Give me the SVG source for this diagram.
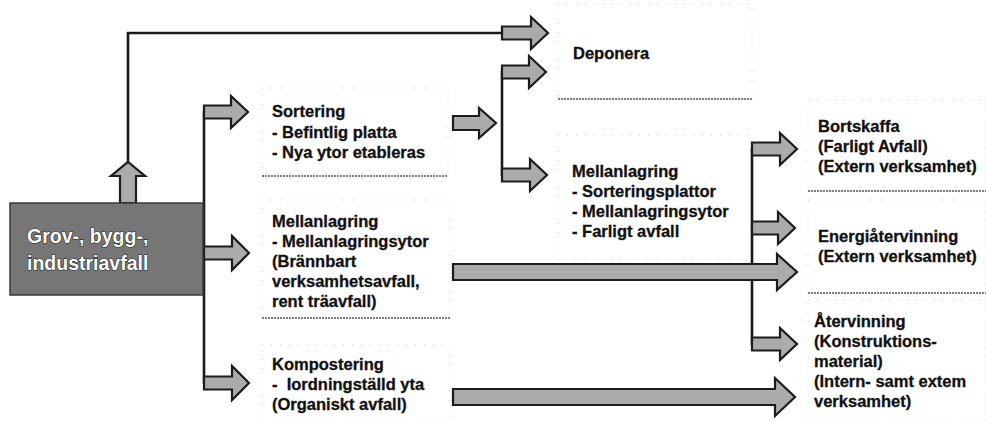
<svg xmlns="http://www.w3.org/2000/svg" width="986" height="421" viewBox="0 0 986 421">
<style>
.t{font-family:"Liberation Sans",Arial,sans-serif;font-weight:bold;font-size:16.5px;fill:#111;stroke:#111;stroke-width:0.3px;white-space:pre}
.bt{font-family:"Liberation Sans",Arial,sans-serif;font-weight:bold;font-size:19.5px;fill:#ffffff;stroke:#2a2a2a;stroke-width:1.2px;paint-order:stroke;white-space:pre}
.ln{fill:none;stroke:#1a1a1a;stroke-width:2.6}
.ar{fill:#ababab;stroke:#1c1c1c;stroke-width:2.2;stroke-linejoin:miter}
.sep{stroke:#555;stroke-width:1.3;stroke-dasharray:2 1}
.fb{fill:none;stroke:#cfcfcf;stroke-width:1;stroke-dasharray:1 8}
</style>
<rect width="986" height="421" fill="#ffffff"/>
<g id="faint-boxes">
<rect class="fb" x="262" y="88" width="186" height="88"/>
<rect class="fb" x="262" y="200" width="188" height="118"/>
<rect class="fb" x="262" y="345" width="188" height="76"/>
<rect class="fb" x="558" y="4" width="194" height="95"/>
<rect class="fb" x="558" y="135" width="194" height="125"/>
<rect class="fb" x="808" y="100" width="178" height="91"/>
<rect class="fb" x="808" y="200" width="178" height="93"/>
<rect class="fb" x="808" y="300" width="178" height="121"/>
</g>
<g id="separators">
<line class="sep" x1="262" y1="176" x2="448" y2="176"/>
<line class="sep" x1="262" y1="318" x2="450" y2="318"/>
<line class="sep" x1="558" y1="99" x2="752" y2="99"/>
<line class="sep" x1="808" y1="191" x2="986" y2="191"/>
<line class="sep" x1="808" y1="293" x2="986" y2="293"/>
</g>
<g id="connectors">
<polyline class="ln" points="128,162 128,33 504,33"/>
<line class="ln" x1="204" y1="111" x2="204" y2="384"/>
<line class="ln" x1="502" y1="71" x2="502" y2="176"/>
<line class="ln" x1="752" y1="148" x2="752" y2="345"/>
<path class="ar" d="M120,203 L120,176 L111,176 L128,162 L145,176 L136,176 L136,203 Z"/>
<path class="ar" d="M204,105.5 L231,105.5 L231,96 L248,112 L231,128 L231,118.5 L204,118.5 Z"/>
<path class="ar" d="M204,246.5 L232,246.5 L232,236 L249,253 L232,270 L232,259.5 L204,259.5 Z"/>
<path class="ar" d="M204,376.5 L232,376.5 L232,366 L249,383 L232,400 L232,389.5 L204,389.5 Z"/>
<path class="ar" d="M502,26.5 L531,26.5 L531,17 L548,33 L531,49 L531,39.5 L502,39.5 Z"/>
<path class="ar" d="M502,65.5 L529,65.5 L529,56 L546,72 L529,88 L529,78.5 L502,78.5 Z"/>
<path class="ar" d="M453,116 L479,116 L479,108 L496,123 L479,138 L479,130 L453,130 Z"/>
<path class="ar" d="M502,168.5 L530,168.5 L530,159 L547,175 L530,191 L530,181.5 L502,181.5 Z"/>
<path class="ar" d="M752,142.5 L780,142.5 L780,133 L797,149 L780,165 L780,155.5 L752,155.5 Z"/>
<path class="ar" d="M752,221.5 L778,221.5 L778,212 L795,228 L778,244 L778,234.5 L752,234.5 Z"/>
<path class="ar" d="M752,337.5 L780,337.5 L780,328 L797,344 L780,360 L780,350.5 L752,350.5 Z"/>
<path class="ar" d="M453,264 L777,264 L777,254 L797,272 L777,290 L777,280 L453,280 Z"/>
<path class="ar" d="M453,389 L775,389 L775,378 L795,397 L775,416 L775,405 L453,405 Z"/>
</g>
<g id="node-source">
<rect x="10" y="203" width="193" height="92" fill="#767676" stroke="#3a3a3a" stroke-width="1.5"/>
<text class="bt" x="27" y="243">Grov-, bygg-,</text>
<text class="bt" x="27" y="270">industriavfall</text>
</g>
<g id="node-sortering">
<text class="t" x="272" y="117">Sortering</text>
<text class="t" x="272" y="138">- Befintlig platta</text>
<text class="t" x="272" y="158">- Nya ytor etableras</text>
</g>
<g id="node-mellanlagring-1">
<text class="t" x="272" y="227">Mellanlagring</text>
<text class="t" x="272" y="247">- Mellanlagringsytor</text>
<text class="t" x="272" y="267">(Brännbart</text>
<text class="t" x="272" y="287">verksamhetsavfall,</text>
<text class="t" x="272" y="307">rent träavfall)</text>
</g>
<g id="node-kompostering">
<text class="t" x="272" y="370">Kompostering</text>
<text class="t" x="272" y="390">-  Iordningställd yta</text>
<text class="t" x="272" y="410">(Organiskt avfall)</text>
</g>
<g id="node-deponera">
<text class="t" x="573" y="59">Deponera</text>
</g>
<g id="node-mellanlagring-2">
<text class="t" x="572" y="177">Mellanlagring</text>
<text class="t" x="572" y="197">- Sorteringsplattor</text>
<text class="t" x="572" y="217">- Mellanlagringsytor</text>
<text class="t" x="572" y="237">- Farligt avfall</text>
</g>
<g id="node-bortskaffa">
<text class="t" x="818" y="132">Bortskaffa</text>
<text class="t" x="818" y="152">(Farligt Avfall)</text>
<text class="t" x="818" y="172">(Extern verksamhet)</text>
</g>
<g id="node-energi">
<text class="t" x="818" y="242">Energiåtervinning</text>
<text class="t" x="818" y="262">(Extern verksamhet)</text>
</g>
<g id="node-atervinning">
<text class="t" x="814" y="327">Återvinning</text>
<text class="t" x="814" y="347">(Konstruktions-</text>
<text class="t" x="814" y="367">material)</text>
<text class="t" x="814" y="387">(Intern- samt extem</text>
<text class="t" x="814" y="407">verksamhet)</text>
</g>
</svg>
